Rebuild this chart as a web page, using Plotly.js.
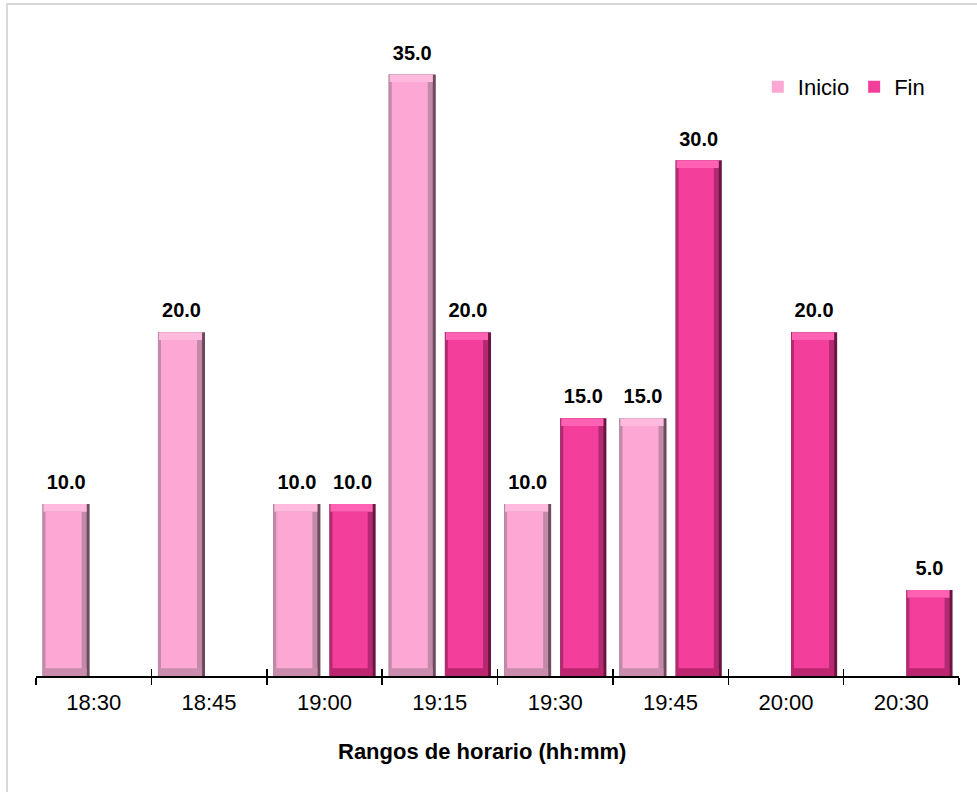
<!DOCTYPE html>
<html>
<head>
<meta charset="utf-8">
<script src="https://cdn.plot.ly/plotly-3.0.1.min.js"></script>
<style>
  html, body { margin:0; padding:0; background:#fff; }
  #chart { width:977px; height:792px; position:absolute; left:0; top:0; }
  #frame { position:absolute; left:6px; top:3px; width:1000px; height:820px;
           border-top:2px solid #d9d9d9; border-left:2px solid #d9d9d9; pointer-events:none; }
</style>
</head>
<body>
<div id="chart"></div>
<div id="frame"></div>
<script>
// ---- data ----
const categories = ['18:30','18:45','19:00','19:15','19:30','19:45','20:00','20:30'];
const inicio = [10, 20, 10, 35, 10, 15, null, null];
const fin    = [null, null, 10, 20, 15, 30, 20, 5];
const seriesNames = ['Inicio', 'Fin'];

// ---- style ----
const PX = 1 / 115.4;        // one pixel in category units
const BEV = 0.45;            // bevel depth in value units
const FONT = 'Liberation Sans, Arial, sans-serif';

const styles = {
  Inicio: { off: -0.443, w: 0.408, dark: '#6e4a5e', mid: '#c08aa8', top: '#ffbade', bottom: '#c98cad', body: '#fda7d5' },
  Fin:    { off:  0.044, w: 0.400, dark: '#6a1642', mid: '#b42a72', top: '#ff62b3', bottom: '#bc266f', body: '#f33f9b' }
};

function layers(name, vals) {
  const s = styles[name];
  const has = vals.map(v => v == null ? null : v);
  const bev = has.map(v => v == null ? null : BEV);
  return [
    { // full bar: darkest right edge
      type: 'bar', x: categories, y: has, showlegend: false,
      offset: s.off, width: s.w, marker: { color: s.dark }, hoverinfo: 'skip'
    },
    { // side shading
      type: 'bar', x: categories, y: has, showlegend: false,
      offset: s.off, width: s.w - 3 * PX, marker: { color: s.mid }, hoverinfo: 'skip'
    },
    { // top bevel
      type: 'bar', x: categories, y: bev,
      base: has.map(v => v == null ? null : v - BEV), showlegend: false,
      offset: s.off + 1 * PX, width: s.w - 4 * PX, marker: { color: s.top }, hoverinfo: 'skip'
    },
    { // bottom bevel
      type: 'bar', x: categories, y: bev,
      base: has.map(v => v == null ? null : 0), showlegend: false,
      offset: s.off + 1 * PX, width: s.w - 4 * PX, marker: { color: s.bottom }, hoverinfo: 'skip'
    },
    { // face
      type: 'bar', x: categories, y: has.map(v => v == null ? null : v - 2 * BEV),
      base: bev, name: name, showlegend: true,
      offset: s.off + 3 * PX, width: s.w - 11 * PX, marker: { color: s.body },
      hovertemplate: name + ' %{x}: %{customdata:.1f}<extra></extra>', customdata: vals
    },
    { // value labels, placed on an invisible spacer just above the bar
      type: 'bar', x: categories, y: bev, base: has, showlegend: false,
      offset: s.off, width: s.w, marker: { color: 'rgba(0,0,0,0)' },
      customdata: vals, texttemplate: '%{customdata:.1f}',
      textposition: 'outside', cliponaxis: false, constraintext: 'none',
      textfont: { family: FONT, size: 20, color: '#000', weight: 'bold' },
      hoverinfo: 'skip'
    }
  ];
}

const data = [
  ...layers(seriesNames[0], inicio),
  ...layers(seriesNames[1], fin),
  { // helper trace for inner tick marks
    type: 'bar', x: categories, y: categories.map(() => null), xaxis: 'x2',
    showlegend: false, hoverinfo: 'skip'
  }
];

const layout = {
  width: 977, height: 792,
  margin: { l: 36, r: 18, t: 40, b: 116 },
  paper_bgcolor: '#fff', plot_bgcolor: '#fff',
  barmode: 'overlay',
  font: { family: FONT, size: 22, color: '#000' },
  xaxis: {
    type: 'category', categoryarray: categories, categoryorder: 'array',
    range: [-0.5, 7.5], tickson: 'boundaries',
    ticks: 'outside', ticklen: 7, tickwidth: 1.5, tickcolor: '#000',
    showline: true, linecolor: '#000', linewidth: 1.5,
    showgrid: false, zeroline: false,
    tickfont: { family: FONT, size: 22, color: '#000' }, ticklabelstandoff: 6
  },
  xaxis2: {
    type: 'category', categoryarray: categories, categoryorder: 'array',
    overlaying: 'x', anchor: 'y', side: 'bottom', matches: 'x',
    range: [-0.5, 7.5], tickson: 'boundaries',
    ticks: 'inside', ticklen: 7, tickwidth: 1.5, tickcolor: '#000',
    showticklabels: false, showline: false, showgrid: false, zeroline: false
  },
  yaxis: {
    range: [0, 37], visible: false, showgrid: false, zeroline: false
  },
  legend: {
    orientation: 'h', x: 0.782, xanchor: 'left', y: 0.926, yanchor: 'middle',
    font: { family: FONT, size: 22, color: '#000' }, bgcolor: 'rgba(0,0,0,0)',
    traceorder: 'normal'
  },
  annotations: [{
    text: '<b>Rangos de horario (hh:mm)</b>', xref: 'paper', yref: 'paper',
    x: 0.483, y: -0.118, xanchor: 'center', yanchor: 'middle', showarrow: false,
    font: { family: FONT, size: 22, color: '#000' }
  }],
  showlegend: true
};

Plotly.newPlot('chart', data, layout, { displayModeBar: false, staticPlot: true });
</script>
</body>
</html>
